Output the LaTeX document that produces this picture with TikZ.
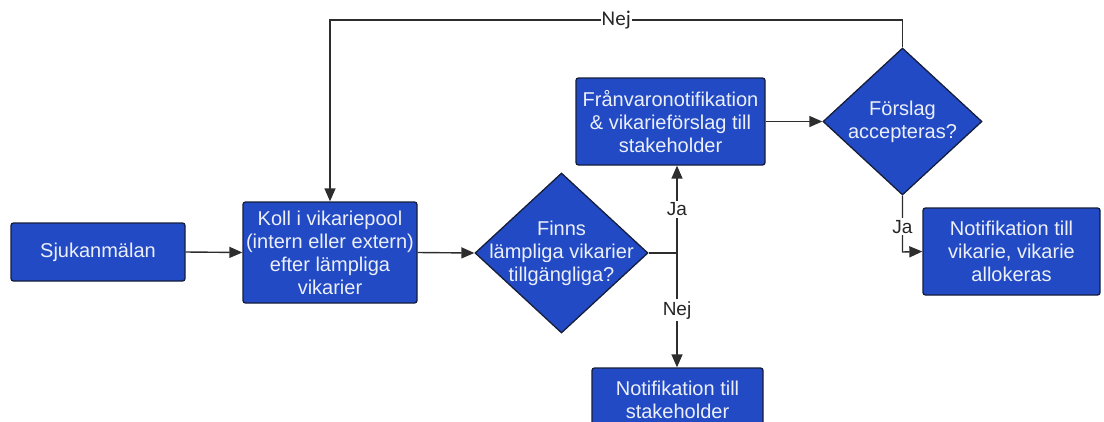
\documentclass[tikz,border=0pt]{standalone}
\usepackage{fontspec}
\setmainfont{Liberation Sans}
\newfontfamily\calfont{Carlito}
\usetikzlibrary{shapes.geometric,arrows.meta}
\definecolor{boxblue}{RGB}{33,74,196}
\definecolor{boxedge}{RGB}{22,30,60}
\definecolor{linegray}{RGB}{45,45,45}
\definecolor{txtwhite}{RGB}{236,239,248}
\tikzset{
  procbox/.style={rectangle, rounded corners=2.5pt, draw=boxedge, line width=1.3pt, fill=boxblue,
    text=txtwhite, align=center, inner sep=0pt, font=\fontsize{20}{23}\selectfont},
  decbox/.style={diamond, draw=boxedge, line width=1.3pt, fill=boxblue, inner sep=0pt},
  dectxt/.style={text=txtwhite, align=center, font=\fontsize{20}{23}\selectfont},
  conn/.style={draw=linegray, line width=1.4pt},
  arr/.style={conn, -{Triangle[length=13pt,width=11pt]}},
  lbl/.style={fill=white, inner sep=2pt, text=black!85, font=\fontsize{19}{21}\selectfont},
}
\begin{document}
\begin{tikzpicture}[x=1pt,y=-1pt]
\useasboundingbox (0,0) rectangle (1104,421);
\begin{scope}
\clip (0,0) rectangle (1104,421);
\node[procbox, minimum width=174pt, minimum height=58pt] (sjuk) at (98,252) {Sjukanmälan};
\node[procbox, minimum width=174pt, minimum height=101pt] (koll) at (330,252.5) {Koll i vikariepool\\(intern eller extern)\\efter lämpliga\\vikarier};
\node[decbox, minimum width=173pt, minimum height=160pt] (finns) at (561.5,253) {};
\node[dectxt] (finnst) at (561.5,253) {Finns\\lämpliga vikarier\\tillgängliga?};
\node[procbox, minimum width=189pt, minimum height=87pt] (fran) at (670.5,121.5) {Frånvaronotifikation\\\&\ vikarieförslag till\\stakeholder};
\node[decbox, minimum width=159pt, minimum height=147pt] (forslag) at (902.5,121.5) {};
\node[dectxt] (forslagt) at (902.5,121.5) {Förslag\\accepteras?};
\node[procbox, minimum width=171pt, minimum height=64pt] (stake) at (677.5,400) {Notifikation till\\stakeholder};
\node[procbox, minimum width=177pt, minimum height=87pt] (notv) at (1011.5,251.5) {Notifikation till\\vikarie, vikarie\\allokeras};

\coordinate (j1) at (677,253);
\coordinate (t1) at (902.5,20);
\coordinate (t2) at (330,20);
\coordinate (b1) at (902.5,252);

\draw[arr] (sjuk.east) -- (koll.west);
\draw[arr] (koll.east) -- (finns.west);
\draw[conn] (finns.east) -- (j1);
\draw[arr] (j1) -- node[lbl]{Ja} (j1 |- fran.south);
\draw[arr] (j1) -- node[lbl]{Nej} (j1 |- stake.north);
\draw[arr] (fran.east) -- (forslag.west);
\draw[arr] (forslag.north) -- (t1) -- node[pos=0.5, fill=white, inner sep=1pt, text=black!85, font=\calfont\fontsize{21}{23}\selectfont]{Nej} (t2) -- (koll.north);
\draw[arr] (forslag.south) -- node[lbl, pos=0.55]{Ja} (b1) -- (notv.west);
\end{scope}
\end{tikzpicture}
\end{document}
